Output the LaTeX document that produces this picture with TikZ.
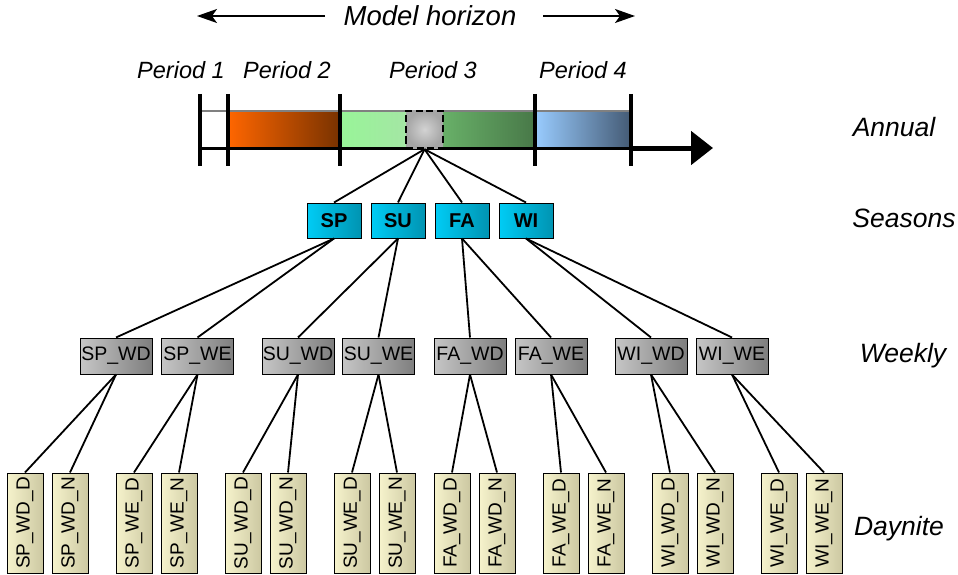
\documentclass[tikz,border=0pt]{standalone}
\usepackage{fontspec}
\setmainfont{Liberation Sans}
\usetikzlibrary{arrows.meta}
\definecolor{seasL}{HTML}{00CCF5}
\definecolor{seasR}{HTML}{0094B2}
\definecolor{wkL}{HTML}{C6C6C6}
\definecolor{wkR}{HTML}{7E7E7E}
\definecolor{dnL}{HTML}{F6F3CC}
\definecolor{dnR}{HTML}{CCC8A2}
\definecolor{ptwoL}{HTML}{FF6600}
\definecolor{ptwoR}{HTML}{783200}
\definecolor{gaL}{HTML}{98F598}
\definecolor{gaR}{HTML}{A4E6A4}
\definecolor{gbL}{HTML}{68B068}
\definecolor{gbR}{HTML}{487848}
\definecolor{pfourL}{HTML}{99CCFF}
\definecolor{pfourR}{HTML}{445A74}
\begin{document}
\begin{tikzpicture}[x=1pt,y=-1pt,
  season/.style={draw=black, line width=1pt, left color=seasL, right color=seasR,
    minimum width=54pt, minimum height=35pt, inner sep=0pt,
    font=\fontsize{20}{20}\selectfont\bfseries},
  weekly/.style={draw=black, line width=1pt, left color=wkL, right color=wkR,
    minimum width=72pt, minimum height=36pt, inner sep=0pt,
    font=\fontsize{19.5}{19.5}\selectfont},
  dayn/.style={draw=black, line width=1pt, left color=dnL, right color=dnR,
    minimum width=36pt, minimum height=100pt, inner sep=0pt,
    font=\fontsize{19}{19}\selectfont},
  conn/.style={line width=1.8pt, black},
  sidelbl/.style={font=\fontsize{26.5}{26.5}\selectfont\itshape, anchor=base, inner sep=0pt},
  perlbl/.style={font=\fontsize{23.5}{23.5}\selectfont\itshape, anchor=base, inner sep=0pt},
  tick/.style={line width=4pt},
  harrow/.style={line width=1.4pt, -{Stealth[length=20pt,width=14pt,inset=5pt]}}
]
\useasboundingbox (0,0) rectangle (958,575);

% ---- model horizon ----
\node[sidelbl, font=\fontsize{27.5}{27.5}\selectfont\itshape] (mh) at (430,26) {Model horizon};
\coordinate (hla) at (325,16);
\coordinate (hlb) at (197,16);
\coordinate (hra) at (543,16);
\coordinate (hrb) at (635,16);
\draw[harrow] (hla) -- (hlb);
\draw[harrow] (hra) -- (hrb);

% ---- period labels ----
\node[perlbl] (p1) at (181,79) {Period 1};
\node[perlbl] (p2) at (287,79) {Period 2};
\node[perlbl] (p3) at (433,79) {Period 3};
\node[perlbl] (p4) at (583,79) {Period 4};

% ---- timeline bar ----
\fill[white] (200,111) rectangle (228,148);
\shade[left color=ptwoL, right color=ptwoR] (228,111) rectangle (340,148);
\shade[left color=gaL, right color=gaR] (340,111) rectangle (406,148);
\shade[left color=gbL, right color=gbR] (443,111) rectangle (535,148);
\shade[left color=pfourL, right color=pfourR] (535,111) rectangle (631,148);
\draw[gray, line width=1.5pt] (200,111) -- (631,111);
\draw[line width=3pt] (200,148) -- (631,148);
\coordinate (axs) at (631,148);
\coordinate (axe) at (713,148);
\draw[line width=5pt, -{Triangle[length=22pt,width=33pt]}] (axs) -- (axe);
\draw[tick] (200,94) -- (200,166);
\draw[tick] (228,94) -- (228,166);
\draw[tick] (340,94) -- (340,166);
\draw[tick] (535,94) -- (535,166);
\draw[tick] (631,94) -- (631,166);

\node[draw=black, line width=2.5pt, dash pattern=on 7pt off 3.5pt,
  inner color=gray!35, outer color=gray!70,
  minimum size=37pt, inner sep=0pt] (cur) at (424.5,129.5) {};

% ---- side labels ----
\node[sidelbl] (lan) at (894,137) {Annual};
\node[sidelbl] (lse) at (904,227) {Seasons};
\node[sidelbl] (lwk) at (903,362) {Weekly};
\node[sidelbl] (ldn) at (899,535) {Daynite};

% ---- seasons ----
\node[season] (SP) at (334,220.5) {SP};
\node[season] (SU) at (398,220.5) {SU};
\node[season] (FA) at (462,220.5) {FA};
\node[season] (WI) at (526,220.5) {WI};

% ---- weekly ----
\node[weekly] (SPWD) at (116,356) {SP\_WD};
\node[weekly] (SPWE) at (197.5,356) {SP\_WE};
\node[weekly] (SUWD) at (298,356) {SU\_WD};
\node[weekly] (SUWE) at (378.5,356) {SU\_WE};
\node[weekly] (FAWD) at (470,356) {FA\_WD};
\node[weekly] (FAWE) at (551,356) {FA\_WE};
\node[weekly] (WIWD) at (651,356) {WI\_WD};
\node[weekly] (WIWE) at (732,356) {WI\_WE};

% ---- daynite ----
\node[dayn] (SPWDD) at (25,523) {\rotatebox{90}{SP\_WD\_D}};
\node[dayn] (SPWDN) at (70,523) {\rotatebox{90}{SP\_WD\_N}};
\node[dayn] (SPWED) at (134,523) {\rotatebox{90}{SP\_WE\_D}};
\node[dayn] (SPWEN) at (179,523) {\rotatebox{90}{SP\_WE\_N}};
\node[dayn] (SUWDD) at (243,523) {\rotatebox{90}{SU\_WD\_D}};
\node[dayn] (SUWDN) at (288,523) {\rotatebox{90}{SU\_WD\_N}};
\node[dayn] (SUWED) at (352,523) {\rotatebox{90}{SU\_WE\_D}};
\node[dayn] (SUWEN) at (397,523) {\rotatebox{90}{SU\_WE\_N}};
\node[dayn] (FAWDD) at (452,523) {\rotatebox{90}{FA\_WD\_D}};
\node[dayn] (FAWDN) at (497,523) {\rotatebox{90}{FA\_WD\_N}};
\node[dayn] (FAWED) at (561,523) {\rotatebox{90}{FA\_WE\_D}};
\node[dayn] (FAWEN) at (606,523) {\rotatebox{90}{FA\_WE\_N}};
\node[dayn] (WIWDD) at (670,523) {\rotatebox{90}{WI\_WD\_D}};
\node[dayn] (WIWDN) at (715,523) {\rotatebox{90}{WI\_WD\_N}};
\node[dayn] (WIWED) at (779,523) {\rotatebox{90}{WI\_WE\_D}};
\node[dayn] (WIWEN) at (824,523) {\rotatebox{90}{WI\_WE\_N}};

% ---- connectors ----
\foreach \s in {SP,SU,FA,WI}{
  \draw[conn] (cur.south) -- (\s.north);
  \draw[conn] (\s.south) -- (\s WD.north);
  \draw[conn] (\s.south) -- (\s WE.north);
  \draw[conn] (\s WD.south) -- (\s WDD.north);
  \draw[conn] (\s WD.south) -- (\s WDN.north);
  \draw[conn] (\s WE.south) -- (\s WED.north);
  \draw[conn] (\s WE.south) -- (\s WEN.north);
}
\end{tikzpicture}
\end{document}
